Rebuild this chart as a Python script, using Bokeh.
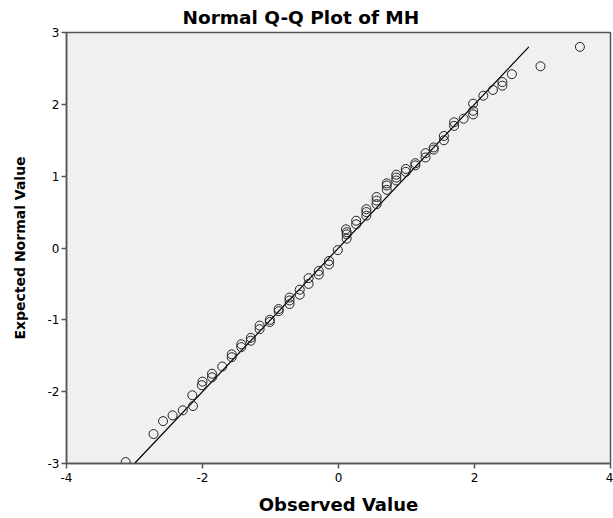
from bokeh.plotting import figure
from bokeh.models import Range1d, FixedTicker, ColumnDataSource
from bokeh.embed import file_html
from bokeh.resources import INLINE

observed = [-3.13, -2.72, -2.58, -2.44, -2.29, -2.14, -2.15, -2.01, -2.00, -1.86,
            -1.86, -1.71, -1.57, -1.57, -1.43, -1.43, -1.29, -1.29, -1.16, -1.16,
            -1.01, -1.01, -0.88, -0.88, -0.72, -0.72, -0.72, -0.57, -0.57, -0.44,
            -0.44, -0.29, -0.29, -0.14, -0.14, -0.01, 0.12, 0.12, 0.12, 0.11,
            0.26, 0.26, 0.41, 0.41, 0.41, 0.56, 0.56, 0.56, 0.71, 0.71,
            0.71, 0.85, 0.85, 0.85, 0.99, 0.99, 1.13, 1.13, 1.28, 1.28,
            1.40, 1.40, 1.55, 1.55, 1.70, 1.70, 1.84, 1.98, 1.98, 1.98,
            2.13, 2.27, 2.41, 2.41, 2.55, 2.97, 3.55]
expected = [-2.98, -2.59, -2.41, -2.33, -2.26, -2.20, -2.05, -1.91, -1.86, -1.80,
            -1.75, -1.65, -1.52, -1.48, -1.38, -1.34, -1.29, -1.25, -1.13, -1.08,
            -1.03, -1.00, -0.88, -0.85, -0.78, -0.73, -0.69, -0.65, -0.58, -0.50,
            -0.42, -0.37, -0.32, -0.23, -0.18, -0.03, 0.13, 0.19, 0.22, 0.26,
            0.33, 0.38, 0.45, 0.50, 0.54, 0.61, 0.66, 0.71, 0.81, 0.87,
            0.90, 0.94, 0.98, 1.02, 1.06, 1.10, 1.15, 1.18, 1.26, 1.32,
            1.37, 1.40, 1.50, 1.56, 1.70, 1.75, 1.80, 1.86, 1.91, 2.01,
            2.12, 2.20, 2.26, 2.31, 2.42, 2.53, 2.80]

line_x = [-3.0, 2.8]
line_y = [-3.0, 2.8]

x_ticks = [-4, -2, 0, 2, 4]
y_ticks = [-3, -2, -1, 0, 1, 2, 3]

FONT = "DejaVu Sans"

src = ColumnDataSource(dict(x=observed, y=expected))

p = figure(width=613, height=518, output_backend="svg", toolbar_location=None,
           x_range=Range1d(-4, 4), y_range=Range1d(-3, 3),
           min_border_left=66, min_border_right=3, min_border_top=32,
           min_border_bottom=55, title="Normal Q-Q Plot of MH")

p.background_fill_color = "#f0f0f0"
p.border_fill_color = "white"
p.outline_line_color = "#555555"
p.outline_line_width = 1.5
p.grid.visible = False

p.title.align = "left"
p.title.offset = 116
p.title.text_font = FONT
p.title.text_font_size = "18.5px"
p.title.text_font_style = "bold"
p.title.text_color = "black"
p.title.standoff = 9

p.line(line_x, line_y, line_color="black", line_width=1.2)
p.scatter("x", "y", source=src, size=9, fill_color=None,
          line_color="#222222", line_width=1)

for ax in (p.xaxis[0], p.yaxis[0]):
    ax.axis_line_color = "#555555"
    ax.axis_line_width = 1.5
    ax.major_tick_line_color = "#555555"
    ax.major_tick_line_width = 1.5
    ax.major_tick_out = 5
    ax.major_tick_in = 0
    ax.minor_tick_line_color = None
    ax.major_label_text_font = FONT
    ax.major_label_text_font_size = "12px"
    ax.major_label_text_color = "black"
    ax.axis_label_text_font = FONT
    ax.axis_label_text_font_style = "bold"
    ax.axis_label_text_color = "black"

p.xaxis[0].ticker = FixedTicker(ticks=x_ticks)
p.yaxis[0].ticker = FixedTicker(ticks=y_ticks)
p.xaxis[0].major_label_overrides = {t: str(t) for t in x_ticks}
p.yaxis[0].major_label_overrides = {t: str(t) for t in y_ticks}
p.xaxis.axis_label = "Observed Value"
p.yaxis.axis_label = "Expected Normal Value"
p.xaxis.axis_label_text_font_size = "18px"
p.yaxis.axis_label_text_font_size = "14px"
p.xaxis.major_label_standoff = 4
p.yaxis.major_label_standoff = 2
p.xaxis.axis_label_standoff = 9
p.yaxis.axis_label_standoff = 17

open("out.html", "w").write(file_html(p, INLINE))
